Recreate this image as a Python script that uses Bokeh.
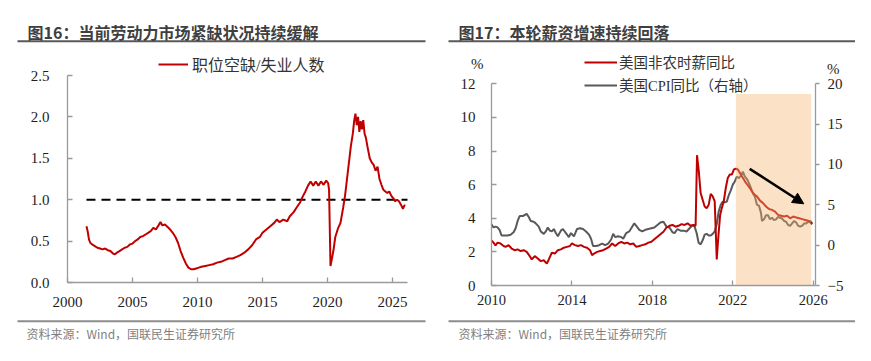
from bokeh.plotting import figure
from bokeh.models import (Range1d, LinearAxis, FixedTicker, NumeralTickFormatter,
                          Legend, LegendItem, Label, Arrow, NormalHead)
from bokeh.layouts import row
from bokeh.embed import file_html
from bokeh.resources import INLINE

# ---------------- data: chart 16 (job openings / unemployed) ----------------
ratio_dates = [
    2001.46, 2001.55, 2001.65, 2001.75, 2001.9, 2002.1, 2002.3, 2002.5, 2002.7, 2002.9,
    2003.1, 2003.3, 2003.5, 2003.65, 2003.8, 2004.0, 2004.2, 2004.4, 2004.6, 2004.8,
    2005.0, 2005.2, 2005.4, 2005.6, 2005.8, 2006.0, 2006.2, 2006.4, 2006.6, 2006.8,
    2007.0, 2007.15, 2007.3, 2007.5, 2007.7, 2007.9, 2008.1, 2008.3, 2008.5, 2008.7,
    2008.9, 2009.1, 2009.3, 2009.5, 2009.7, 2009.9, 2010.1, 2010.3, 2010.6, 2010.9,
    2011.2, 2011.5, 2011.8, 2012.1, 2012.4, 2012.7, 2013.0, 2013.3, 2013.6, 2013.9,
    2014.2, 2014.5, 2014.8, 2015.0, 2015.3, 2015.6, 2015.9, 2016.1, 2016.3, 2016.6,
    2016.9, 2017.1, 2017.4, 2017.6, 2017.9, 2018.1, 2018.3, 2018.5, 2018.7, 2018.9,
    2019.1, 2019.3, 2019.5, 2019.7, 2019.9, 2020.05, 2020.12, 2020.23, 2020.45, 2020.6,
    2020.8, 2021.0, 2021.2, 2021.35, 2021.5, 2021.65, 2021.8, 2021.95, 2022.05, 2022.15,
    2022.25, 2022.35, 2022.45, 2022.55, 2022.65, 2022.75, 2022.85, 2022.95, 2023.1, 2023.25,
    2023.4, 2023.55, 2023.7, 2023.85, 2024.0, 2024.15, 2024.3, 2024.45, 2024.6, 2024.75,
    2024.9, 2025.05, 2025.2, 2025.35, 2025.5, 2025.65, 2025.8, 2025.95,
]
ratio_values = [
    0.68, 0.62, 0.52, 0.48, 0.46, 0.44, 0.42, 0.41, 0.40, 0.41,
    0.39, 0.38, 0.35, 0.34, 0.36, 0.38, 0.40, 0.42, 0.43, 0.46,
    0.47, 0.50, 0.52, 0.55, 0.56, 0.58, 0.60, 0.62, 0.66, 0.64,
    0.69, 0.73, 0.69, 0.70, 0.67, 0.64, 0.60, 0.55, 0.48, 0.38,
    0.30, 0.23, 0.18, 0.16, 0.16, 0.17, 0.18, 0.19, 0.20, 0.21,
    0.22, 0.24, 0.25, 0.27, 0.29, 0.29, 0.31, 0.33, 0.36, 0.40,
    0.45, 0.52, 0.55, 0.60, 0.64, 0.68, 0.72, 0.76, 0.73, 0.76,
    0.74, 0.80, 0.85, 0.90, 0.97, 1.04, 1.10, 1.17, 1.22, 1.17,
    1.22, 1.17, 1.22, 1.18, 1.23, 1.20, 1.12, 0.20, 0.38, 0.55,
    0.65, 0.72, 0.90, 1.05, 1.25, 1.45, 1.65, 1.80, 1.95, 2.04,
    1.90, 2.00, 1.82, 1.95, 1.85, 1.96, 1.80, 1.75, 1.62, 1.50,
    1.45, 1.42, 1.35, 1.40, 1.25, 1.18, 1.12, 1.10, 1.08, 1.10,
    1.05, 1.02, 0.98, 1.00, 0.98, 0.94, 0.89, 0.94,
]
ratio_ref_level = 1.0
ratio_label = "职位空缺/失业人数"
left_xticks = [2000, 2005, 2010, 2015, 2020, 2025]
left_yticks = [0.0, 0.5, 1.0, 1.5, 2.0, 2.5]

# ---------------- data: chart 17 (wages vs CPI) ----------------
wage_dates = [
    2010.0, 2010.1, 2010.2, 2010.3, 2010.45, 2010.6, 2010.7, 2010.85, 2011.0, 2011.15,
    2011.3, 2011.45, 2011.6, 2011.75, 2011.9, 2012.0, 2012.15, 2012.3, 2012.45, 2012.6,
    2012.75, 2012.85, 2013.0, 2013.15, 2013.3, 2013.45, 2013.6, 2013.75, 2013.9, 2014.0,
    2014.15, 2014.3, 2014.45, 2014.6, 2014.75, 2014.9, 2015.0, 2015.1, 2015.25, 2015.4,
    2015.55, 2015.7, 2015.85, 2016.0, 2016.15, 2016.3, 2016.45, 2016.6, 2016.75, 2016.9,
    2017.05, 2017.2, 2017.35, 2017.5, 2017.65, 2017.8, 2017.95, 2018.1, 2018.25, 2018.4,
    2018.55, 2018.7, 2018.85, 2019.0, 2019.15, 2019.3, 2019.45, 2019.6, 2019.75, 2019.9,
    2020.05, 2020.15, 2020.22, 2020.3, 2020.4, 2020.5, 2020.6, 2020.7, 2020.8, 2020.9,
    2021.0, 2021.1, 2021.2, 2021.28, 2021.37, 2021.45, 2021.55, 2021.65, 2021.75, 2021.85,
    2021.95, 2022.05, 2022.15, 2022.25, 2022.35, 2022.45, 2022.55, 2022.65, 2022.75, 2022.85,
    2022.95, 2023.05, 2023.2, 2023.35, 2023.5, 2023.65, 2023.8, 2023.95, 2024.1, 2024.25,
    2024.4, 2024.55, 2024.7, 2024.85, 2025.0, 2025.15, 2025.3, 2025.45, 2025.6, 2025.75,
    2025.85, 2025.95,
]
wage_yoy = [
    2.68, 2.55, 2.38, 2.55, 2.50, 2.35, 2.30, 2.40, 2.20, 2.10,
    2.15, 2.05, 2.10, 2.00, 1.75, 1.55, 1.75, 1.60, 1.45, 1.50,
    1.30, 1.55, 1.95, 1.90, 2.10, 2.15, 2.25, 2.30, 2.35, 2.50,
    2.40, 2.35, 2.40, 2.30, 2.25, 2.10, 1.80, 1.90, 2.00, 2.05,
    2.10, 2.20, 2.30, 2.50, 2.35, 2.50, 2.60, 2.50, 2.55, 2.45,
    2.50, 2.30, 2.35, 2.40, 2.45, 2.55, 2.60, 2.75, 2.90, 3.05,
    3.20, 3.45, 3.55, 3.60, 3.50, 3.55, 3.65, 3.60, 3.70, 3.55,
    3.60, 3.55, 7.75, 6.90, 5.50, 5.10, 4.70, 4.60, 4.80, 5.45,
    5.30, 5.00, 1.55, 2.90, 4.20, 4.60, 5.00, 5.80, 6.40, 6.60,
    6.60, 6.90, 6.95, 6.90, 6.70, 6.50, 6.30, 6.10, 5.95, 5.80,
    5.60, 5.45, 5.30, 5.05, 4.90, 4.70, 4.55, 4.50, 4.40, 4.20,
    4.15, 4.10, 4.15, 4.00, 4.10, 4.05, 4.00, 3.95, 3.90, 3.85,
    3.75, 3.65,
]
cpi_dates = [
    2010.0, 2010.1, 2010.2, 2010.3, 2010.4, 2010.5, 2010.65, 2010.8, 2010.95, 2011.1,
    2011.2, 2011.3, 2011.4, 2011.55, 2011.7, 2011.75, 2011.85, 2011.95, 2012.1, 2012.2,
    2012.35, 2012.45, 2012.6, 2012.7, 2012.8, 2012.9, 2013.0, 2013.1, 2013.2, 2013.3,
    2013.45, 2013.55, 2013.7, 2013.85, 2013.95, 2014.1, 2014.25, 2014.4, 2014.55, 2014.7,
    2014.85, 2014.95, 2015.05, 2015.2, 2015.35, 2015.5, 2015.65, 2015.8, 2015.95, 2016.05,
    2016.15, 2016.3, 2016.45, 2016.55, 2016.7, 2016.85, 2016.95, 2017.1, 2017.2, 2017.35,
    2017.5, 2017.65, 2017.8, 2017.95, 2018.1, 2018.25, 2018.4, 2018.55, 2018.7, 2018.85,
    2019.0, 2019.1, 2019.25, 2019.4, 2019.55, 2019.7, 2019.85, 2020.0, 2020.1, 2020.2,
    2020.3, 2020.4, 2020.5, 2020.6, 2020.7, 2020.8, 2020.9, 2021.0, 2021.1, 2021.2,
    2021.3, 2021.4, 2021.5, 2021.6, 2021.7, 2021.8, 2021.9, 2022.0, 2022.1, 2022.2,
    2022.3, 2022.4, 2022.5, 2022.6, 2022.7, 2022.8, 2022.9, 2023.0, 2023.1, 2023.2,
    2023.3, 2023.4, 2023.45, 2023.55, 2023.65, 2023.75, 2023.85, 2023.95, 2024.05, 2024.15,
    2024.25, 2024.35, 2024.45, 2024.55, 2024.65, 2024.75, 2024.85, 2024.95, 2025.05, 2025.15,
    2025.25, 2025.35, 2025.45, 2025.55, 2025.65, 2025.75, 2025.85, 2025.95,
]
cpi_yoy = [
    2.6, 2.2, 2.3, 2.2, 1.9, 1.2, 1.2, 1.2, 1.3, 1.6,
    2.1, 3.0, 3.6, 3.6, 3.8, 3.9, 3.5, 3.0, 2.9, 2.7,
    2.3, 1.7, 1.4, 1.7, 2.2, 1.8, 1.7, 2.0, 1.5, 1.1,
    1.8, 2.0, 1.5, 1.0, 1.5, 1.1, 2.0, 2.1, 2.0, 1.7,
    1.3, 0.8, -0.1, -0.1, 0.0, 0.2, 0.0, 0.2, 0.7, 1.4,
    1.0, 1.1, 1.0, 0.8, 1.5, 1.7, 2.1, 2.7, 2.4, 1.9,
    1.7, 1.9, 2.0, 2.1, 2.2, 2.5, 2.8, 2.9, 2.3, 2.2,
    1.6, 1.5, 2.0, 1.8, 1.8, 1.7, 2.1, 2.5, 2.3, 1.5,
    0.3, 0.1, 0.6, 1.3, 1.4, 1.2, 1.2, 1.4, 1.7, 2.6,
    4.2, 5.0, 5.4, 5.3, 5.4, 6.2, 6.8, 7.5, 7.9, 8.5,
    8.3, 8.6, 9.1, 8.5, 8.2, 7.7, 7.1, 6.4, 6.0, 5.0,
    4.9, 4.0, 3.0, 3.2, 3.7, 3.7, 3.2, 3.4, 3.1, 3.2,
    3.5, 3.4, 3.3, 3.0, 2.9, 2.5, 2.4, 2.7, 3.0, 2.8,
    2.4, 2.3, 2.4, 2.7, 2.7, 2.9, 3.0, 2.7,
]
wage_label = "美国非农时薪同比"
cpi_label = "美国CPI同比（右轴）"
right_xticks = [2010, 2014, 2018, 2022, 2026]
wage_ticks = [0, 2, 4, 6, 8, 10, 12]
cpi_ticks = [-5, 0, 5, 10, 15, 20]
shade_period = [2022.15, 2025.9]      # years
shade_level = [0.0, 11.4]             # left-axis units
arrow_from = [2022.84, 6.94]
arrow_to = [2025.53, 4.86]

title_left = "图16：当前劳动力市场紧缺状况持续缓解"
title_right = "图17：本轮薪资增速持续回落"
source_text = "资料来源：Wind，国联民生证券研究所"

assert len(ratio_dates) == len(ratio_values)
assert len(wage_dates) == len(wage_yoy)
assert len(cpi_dates) == len(cpi_yoy)

# ---------------- styling / layout constants ----------------
RED = "#C00000"
GRAY = "#595959"
AXIS = "#9A9A9A"
TICK_FONT = "'Liberation Serif', 'Times New Roman', serif"
LEG_FONT = "'Liberation Serif', 'Noto Sans CJK SC', serif"
CJK = "'Noto Sans CJK SC', sans-serif"

H = 345                 # page height used
LW, RW = 436, 419       # panel widths (left panel starts at page x 0, right at 436)


class PageMap:
    """Maps page pixels of one panel to its data coordinates."""
    def __init__(self, x0_page, px_origin, x_origin, px_per_x, py_origin, px_per_y):
        self.x0_page, self.px_origin, self.x_origin = x0_page, px_origin, x_origin
        self.px_per_x, self.py_origin, self.px_per_y = px_per_x, py_origin, px_per_y

    def X(self, px):
        return self.x_origin + (px - self.px_origin) / self.px_per_x

    def Y(self, py):
        return (self.py_origin - py) / self.px_per_y


def panel(width, m):
    p = figure(width=width, height=H,
               x_range=Range1d(m.X(m.x0_page), m.X(m.x0_page + width)),
               y_range=Range1d(m.Y(H), m.Y(0)),
               toolbar_location=None, output_backend="svg", min_border=0,
               outline_line_color=None)
    p.grid.visible = False
    return p


def decorate(p, m, title, tx, lx0, lx1, sx):
    p.add_layout(Label(x=m.X(tx), y=m.Y(31.7), text=title, text_font=CJK,
                       text_font_size="16px", text_font_style="bold", text_color="#3F3F3F",
                       text_baseline="middle", text_align="left"))
    p.segment(x0=[m.X(lx0)], y0=[m.Y(40.8)], x1=[m.X(lx1)], y1=[m.Y(40.8)],
              line_color="#595959", line_width=2)
    p.segment(x0=[m.X(lx0)], y0=[m.Y(320.7)], x1=[m.X(lx1)], y1=[m.Y(320.7)],
              line_color="#8C8C8C", line_width=2)
    p.add_layout(Label(x=m.X(sx), y=m.Y(332.7), text=source_text, text_font=CJK,
                       text_font_size="12px", text_color="#7F7F7F",
                       text_baseline="middle", text_align="left"))


def style_axis(ax, size, standoff, tick_in=5, tick_out=0):
    ax.axis_line_color = AXIS
    ax.axis_line_width = 1.3
    ax.major_tick_line_color = AXIS
    ax.major_tick_line_width = 1.3
    ax.major_tick_in = tick_in
    ax.major_tick_out = tick_out
    ax.minor_tick_line_color = None
    ax.major_label_text_font = TICK_FONT
    ax.major_label_text_font_size = size
    ax.major_label_text_color = "#1E1E1E"
    ax.major_label_standoff = standoff


# ---------------- left panel ----------------
mL = PageMap(0, 67, 2000, 13.0, 282, 82.8)
l_xend = mL.X(407)
pL = panel(LW, mL)
decorate(pL, mL, title_left, 27, 17, 425, 26)
pL.line(x=[ratio_dates[0], l_xend], y=[ratio_ref_level, ratio_ref_level],
        line_color="black", line_width=2, line_dash="9 6")
rL = pL.line(x=ratio_dates, y=ratio_values, line_color=RED, line_width=2)
pL.xaxis.ticker = FixedTicker(ticks=left_xticks)
pL.xaxis.bounds = (left_xticks[0], l_xend)
pL.xaxis.fixed_location = left_yticks[0]
pL.yaxis.ticker = FixedTicker(ticks=left_yticks)
pL.yaxis.formatter = NumeralTickFormatter(format="0.0")
pL.yaxis.bounds = (left_yticks[0], left_yticks[-1])
pL.yaxis.fixed_location = left_xticks[0]
style_axis(pL.xaxis[0], "15px", 14)
style_axis(pL.yaxis[0], "15px", 18)
legL = Legend(items=[LegendItem(label=ratio_label, renderers=[rL])],
              location=(158, H - 76),
              padding=0, margin=0, border_line_color=None, background_fill_alpha=0,
              glyph_width=30, glyph_height=20, label_height=20, label_standoff=4,
              label_text_font=LEG_FONT, label_text_font_size="16px", label_text_color="#333333")
pL.add_layout(legL)

# ---------------- right panel ----------------
mR = PageMap(LW, 491, 2010, 20.11, 285, 201.7 / 12)
r_xend = mR.X(815)
c_scale = (cpi_ticks[-1] - cpi_ticks[0]) / wage_ticks[-1]
pR = panel(RW, mR)
decorate(pR, mR, title_right, 458, 448, 855, 458)
pR.extra_y_ranges = {"cpi": Range1d(cpi_ticks[0] + mR.Y(H) * c_scale,
                                    cpi_ticks[0] + mR.Y(0) * c_scale)}
axR = LinearAxis(y_range_name="cpi", fixed_location=r_xend)
pR.add_layout(axR, "right")
rC = pR.line(x=cpi_dates, y=cpi_yoy, y_range_name="cpi", line_color=GRAY, line_width=2)
rW = pR.line(x=wage_dates, y=wage_yoy, line_color=RED, line_width=2)
pR.quad(left=[shade_period[0]], right=[shade_period[1]], bottom=[shade_level[0]],
        top=[shade_level[1]], fill_color=(245, 180, 110), fill_alpha=0.4, line_color=None)
pR.add_layout(Arrow(end=NormalHead(size=11, fill_color="black", line_color="black"),
                    x_start=arrow_from[0], y_start=arrow_from[1],
                    x_end=arrow_to[0], y_end=arrow_to[1],
                    line_color="black", line_width=2.5))
pR.xaxis.ticker = FixedTicker(ticks=right_xticks)
pR.xaxis.bounds = (right_xticks[0], r_xend)
pR.xaxis.fixed_location = wage_ticks[0]
pR.yaxis[0].ticker = FixedTicker(ticks=wage_ticks)
pR.yaxis[0].bounds = (wage_ticks[0], wage_ticks[-1])
pR.yaxis[0].fixed_location = right_xticks[0]
axR.ticker = FixedTicker(ticks=cpi_ticks)
axR.bounds = (cpi_ticks[0], cpi_ticks[-1])
style_axis(pR.xaxis[0], "14.5px", 9)
style_axis(pR.yaxis[0], "15px", 16)
style_axis(axR, "15px", 8, tick_in=0, tick_out=4)
for (px, py) in [(476.7, 63.3), (832.7, 68)]:
    pR.add_layout(Label(x=mR.X(px), y=mR.Y(py), text="%",
                        text_font=TICK_FONT, text_font_size="15px", text_color="#1E1E1E",
                        text_align="center", text_baseline="middle"))
legR = Legend(items=[LegendItem(label=wage_label, renderers=[rW]),
                     LegendItem(label=cpi_label, renderers=[rC])],
              location=(584 - LW, H - 95.3),
              padding=0, margin=0, border_line_color=None, background_fill_alpha=0,
              glyph_width=33, glyph_height=20, label_height=20, label_standoff=2, spacing=2,
              label_text_font=LEG_FONT, label_text_font_size="14.5px", label_text_color="#333333")
pR.add_layout(legR)

layout = row(pL, pR)

open("out.html", "w").write(file_html(layout, INLINE))
